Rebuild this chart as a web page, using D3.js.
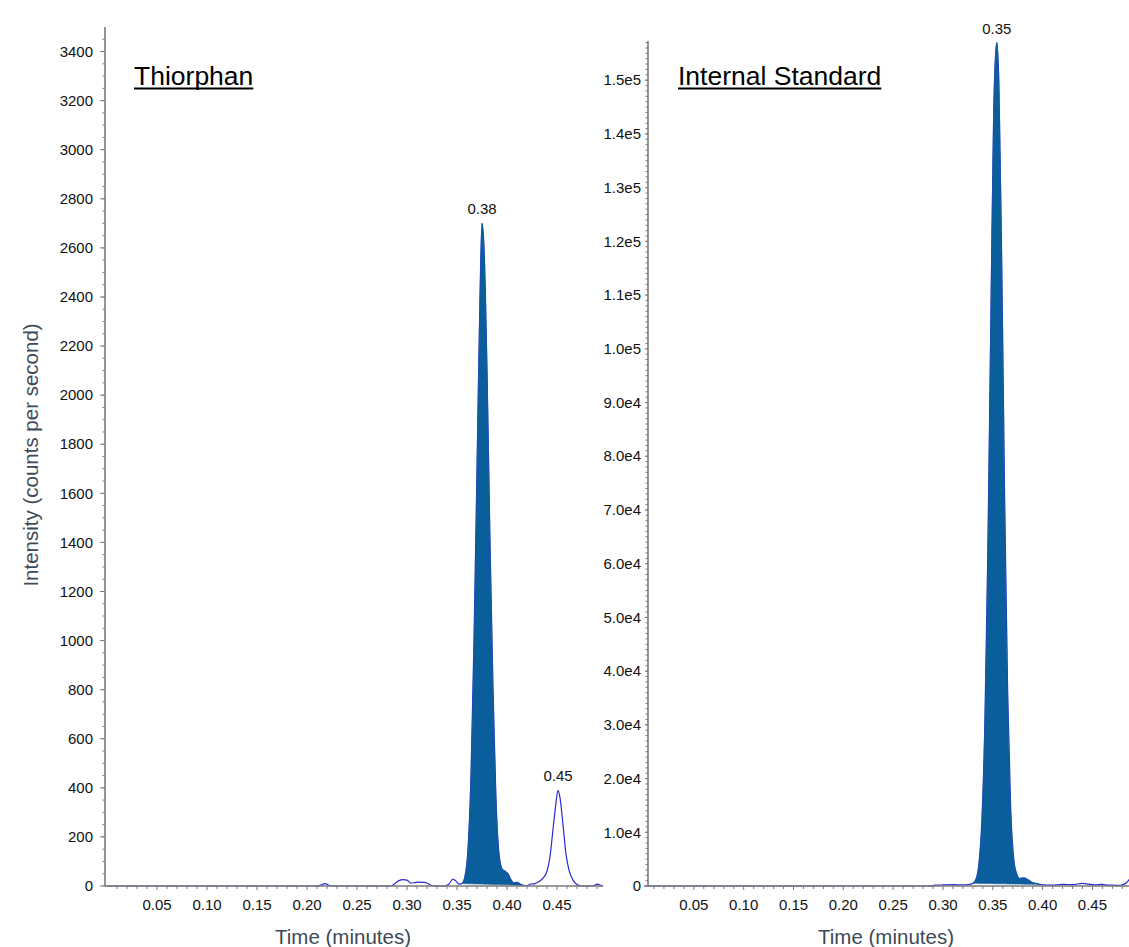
<!DOCTYPE html>
<html>
<head>
<meta charset="utf-8">
<script src="https://cdn.jsdelivr.net/npm/d3@7"></script>
<style>
  body { margin: 0; background: #fff; }
  svg { display: block; font-family: "Liberation Sans", Arial, sans-serif; }
</style>
</head>
<body>
<script>
// Thiorphan trace (time in minutes, intensity in counts per second)
var leftTime = [0, 0.210, 0.214, 0.218, 0.222, 0.226, 0.284, 0.288, 0.292, 0.296, 0.300, 0.304, 0.308, 0.312, 0.316, 0.320, 0.324, 0.328,
  0.338, 0.342, 0.346, 0.349, 0.352, 0.355, 0.358, 0.361, 0.364, 0.367, 0.370, 0.373, 0.375, 0.377, 0.380, 0.383, 0.386, 0.389,
  0.392, 0.395, 0.398, 0.401, 0.404, 0.407, 0.410, 0.413, 0.416, 0.420, 0.424, 0.428, 0.432, 0.436, 0.440, 0.443, 0.446, 0.449,
  0.451, 0.453, 0.456, 0.459, 0.462, 0.466, 0.470, 0.475, 0.486, 0.490, 0.493, 0.496];
var leftIntensity = [0, 0, 4, 10, 3, 0, 0, 10, 22, 26, 24, 12, 14, 16, 15, 12, 3, 0,
  0, 8, 28, 20, 8, 10, 40, 150, 450, 1000, 1700, 2400, 2700, 2600, 2100, 1400, 800, 350,
  130, 70, 60, 50, 25, 12, 15, 8, 3, 2, 8, 10, 18, 32, 60, 120, 230, 340,
  390, 360, 250, 130, 65, 25, 6, 0, 0, 8, 4, 0];
var leftFillRange = [0.355, 0.416];
var leftPeakTimes = [0.375, 0.451];
var leftPeakLabels = ["0.38", "0.45"];

// Internal standard trace
var rightTime = [0, 0.288, 0.292, 0.300, 0.310, 0.320, 0.327, 0.330, 0.333, 0.336, 0.339, 0.342, 0.345, 0.348, 0.351, 0.354,
  0.356, 0.359, 0.362, 0.365, 0.368, 0.371, 0.374, 0.377, 0.381, 0.385, 0.389, 0.393, 0.397, 0.400, 0.410, 0.420, 0.430,
  0.440, 0.446, 0.452, 0.460, 0.466, 0.470, 0.476, 0.480, 0.484, 0.488, 0.492];
var rightIntensity = [0, 0, 150, 200, 250, 200, 300, 500, 1200, 4000, 12000, 30000, 62000, 105000, 145000, 157000,
  150000, 115000, 70000, 35000, 14000, 5000, 2200, 1400, 1500, 1200, 700, 500, 300, 200, 150, 300, 250,
  500, 350, 200, 300, 150, 150, 100, 200, 600, 1500, 2500];
var rightFillRange = [0.330, 0.397];
var rightPeakTimes = [0.354];
var rightPeakLabels = ["0.35"];

var xTicks = [0.05, 0.10, 0.15, 0.20, 0.25, 0.30, 0.35, 0.40, 0.45];
var leftYTicks = [0, 200, 400, 600, 800, 1000, 1200, 1400, 1600, 1800, 2000, 2200, 2400, 2600, 2800, 3000, 3200, 3400];
var rightYTicks = [0, 10000, 20000, 30000, 40000, 50000, 60000, 70000, 80000, 90000, 100000, 110000, 120000, 130000, 140000, 150000];

var width = 1129, height = 947;
var fillColor = "#0b5e9c", lineColor = "#2a2ad6", axisColor = "#7a7a7a";

var svg = d3.select("body").append("svg")
  .attr("width", width)
  .attr("height", height);

svg.append("rect").attr("width", width).attr("height", height).attr("fill", "#fff");

function drawPanel(opt) {
  var pts = opt.time.map(function(t, i) { return { t: t, v: opt.values[i] }; });
  var x = d3.scaleLinear().domain(opt.xDomain).range(opt.xRange);
  var y = d3.scaleLinear().domain(opt.yDomain).range([886, opt.yTop]);
  var g = svg.append("g");

  // trace line first, the filled peak goes over it
  var line = d3.line()
    .curve(d3.curveMonotoneX)
    .x(function(d) { return x(d.t); })
    .y(function(d) { return y(d.v); });
  g.append("path").datum(pts).attr("d", line)
    .attr("fill", "none").attr("stroke", lineColor).attr("stroke-width", 1.2);

  // filled (integrated) peak, baseline drawn between the two ends
  var inFill = pts.filter(function(d) { return d.t >= opt.fill[0] && d.t <= opt.fill[1]; });
  var b0 = inFill[0], b1 = inFill[inFill.length - 1];
  var base = function(t) { return b0.v + (b1.v - b0.v) * (t - b0.t) / (b1.t - b0.t); };
  var area = d3.area()
    .curve(d3.curveMonotoneX)
    .x(function(d) { return x(d.t); })
    .y0(function(d) { return y(base(d.t)); })
    .y1(function(d) { return y(d.v); });
  g.append("path").datum(inFill).attr("d", area)
    .attr("fill", fillColor).attr("stroke", fillColor).attr("stroke-width", 0.6);

  // x axis
  var xa = g.append("g").attr("transform", "translate(0,886)");
  xa.append("line").attr("x1", opt.xRange[0]).attr("x2", opt.xRange[1])
    .attr("stroke", axisColor).attr("stroke-width", 1.6);
  var minorX = d3.range(1, 50).map(function(i) { return i / 100; })
    .filter(function(t) { return x(t) > opt.xRange[0] + 1; });
  xa.selectAll(".mx").data(minorX).enter().append("line")
    .attr("x1", function(d) { return x(d); }).attr("x2", function(d) { return x(d); })
    .attr("y1", 0).attr("y2", function(d) { return Math.abs(d * 20 - Math.round(d * 20)) < 1e-6 ? 4 : 3; })
    .attr("stroke", axisColor).attr("stroke-width", 1);
  xa.selectAll(".xl").data(xTicks).enter().append("text")
    .attr("x", function(d) { return x(d); }).attr("y", 24)
    .attr("text-anchor", "middle").attr("font-size", 15).attr("fill", "#111")
    .text(function(d) { return d3.format(".2f")(d); });
  g.append("text").attr("x", opt.xTitleX).attr("y", 944)
    .attr("text-anchor", "middle").attr("font-size", 20.5).attr("fill", "#3e4a57")
    .text("Time (minutes)");

  // y axis
  var ya = g.append("g").attr("transform", "translate(" + opt.xRange[0] + ",0)");
  ya.append("line").attr("y1", 886).attr("y2", opt.yTop)
    .attr("stroke", axisColor).attr("stroke-width", 1.6);
  var minorY = d3.range(0, opt.yDomain[1], opt.minorStep);
  ya.selectAll(".my").data(minorY).enter().append("line")
    .attr("y1", function(d) { return y(d); }).attr("y2", function(d) { return y(d); })
    .attr("x1", 0).attr("x2", -2.5)
    .attr("stroke", axisColor).attr("stroke-width", 1);
  ya.selectAll(".My").data(opt.yTicks).enter().append("line")
    .attr("y1", function(d) { return y(d); }).attr("y2", function(d) { return y(d); })
    .attr("x1", 0).attr("x2", -opt.majorLen)
    .attr("stroke", axisColor).attr("stroke-width", 1);
  ya.selectAll(".yl").data(opt.yTicks).enter().append("text")
    .attr("x", opt.labelGap).attr("y", function(d) { return y(d); })
    .attr("dy", "0.35em")
    .attr("text-anchor", "end").attr("font-size", 15).attr("fill", "#111")
    .text(opt.fmt);

  // peak labels
  opt.peakTimes.forEach(function(t, i) {
    var p = pts.filter(function(d) { return Math.abs(d.t - t) < 1e-9; })[0];
    g.append("text").attr("x", x(t)).attr("y", y(p.v) - 9)
      .attr("text-anchor", "middle").attr("font-size", 15).attr("fill", "#111")
      .text(opt.peakLabels[i]);
  });

  // underlined panel title
  var title = g.append("text").attr("x", opt.titleX).attr("y", 85)
    .attr("font-size", 26.5).attr("fill", "#000").text(opt.title);
  var bb = title.node().getBBox();
  g.append("line").attr("x1", bb.x).attr("x2", bb.x + bb.width)
    .attr("y1", 88.5).attr("y2", 88.5).attr("stroke", "#000").attr("stroke-width", 1.8);
}

drawPanel({
  time: leftTime, values: leftIntensity, fill: leftFillRange,
  peakTimes: leftPeakTimes, peakLabels: leftPeakLabels,
  xDomain: [-0.002, 0.496], xRange: [105, 603],
  yDomain: [0, 3500], yTop: 27, yTicks: leftYTicks, minorStep: 50, majorLen: 5, labelGap: -12,
  fmt: function(d) { return d; },
  title: "Thiorphan", titleX: 134, xTitleX: 343
});

drawPanel({
  time: rightTime, values: rightIntensity, fill: rightFillRange,
  peakTimes: rightPeakTimes, peakLabels: rightPeakLabels,
  xDomain: [0.004, 0.4967], xRange: [648, 1139],
  yDomain: [0, 157300], yTop: 41, yTicks: rightYTicks, minorStep: 1000, majorLen: 3, labelGap: -7,
  fmt: function(d) { return d === 0 ? "0" : d3.format(".1e")(d).replace("e+", "e"); },
  title: "Internal Standard", titleX: 678, xTitleX: 886
});

// shared y axis title
svg.append("text")
  .attr("transform", "translate(38,455) rotate(-90)")
  .attr("text-anchor", "middle").attr("font-size", 20.5).attr("fill", "#3e4a57")
  .text("Intensity (counts per second)");
</script>
</body>
</html>
